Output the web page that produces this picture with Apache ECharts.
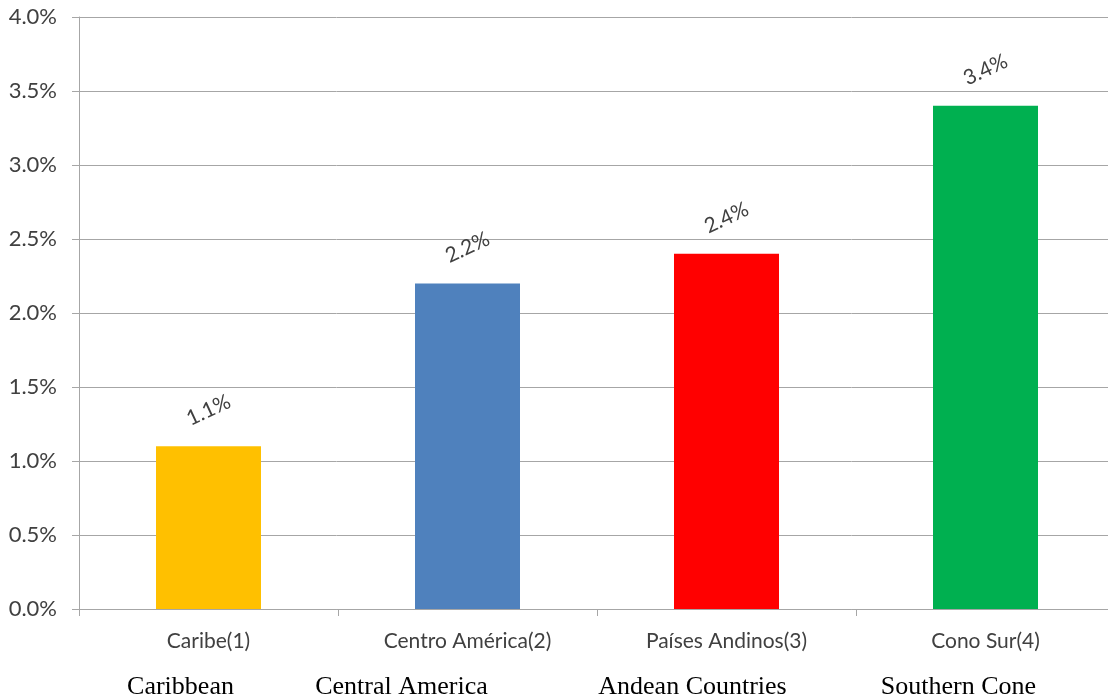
<!DOCTYPE html>
<html>
<head>
<meta charset="utf-8">
<script src="https://cdn.jsdelivr.net/npm/echarts@6/dist/echarts.min.js"></script>
<style>
html, body { margin: 0; padding: 0; background: #fff; }
#chart { width: 1108px; height: 700px; }
</style>
</head>
<body>
<div id="chart"></div>
<script>
// Regional categories (Spanish label + English translation underneath)
const categories = ['Caribe(1)', 'Centro América(2)', 'Países Andinos(3)', 'Cono Sur(4)'];
const englishNames = ['Caribbean', 'Central America', 'Andean Countries', 'Southern Cone'];
// Growth rate per region, in percent
const values = [1.1, 2.2, 2.4, 3.4];
const barColors = ['#FFC000', '#4F81BD', '#FF0000', '#00B050'];
// Value axis ticks (percent)
const yTicks = [0, 0.5, 1.0, 1.5, 2.0, 2.5, 3.0, 3.5, 4.0];

// The English captions sit a little left of each category centre;
// right padding on the caption shifts it left by half that amount.
const enShift = [56, 132, 68, 54];
const rich = {
  es: { fontFamily: 'Lato', fontSize: 21, color: '#404040', lineHeight: 24 }
};
enShift.forEach(function (p, i) {
  rich['en' + i] = {
    fontFamily: 'Liberation Serif', fontSize: 26, color: '#000000',
    lineHeight: 47, verticalAlign: 'bottom', padding: [0, p, 0, 0]
  };
});

const chart = echarts.init(document.getElementById('chart'));

chart.setOption({
  animation: false,
  grid: { left: 79, top: 17, width: 1036, height: 592, containLabel: false, outerBoundsMode: 'none' },
  xAxis: {
    type: 'category',
    data: categories,
    axisLine: { lineStyle: { color: '#A6A6A6', width: 1 } },
    axisTick: { show: true, length: 7, alignWithLabel: false, lineStyle: { color: '#A6A6A6' } },
    axisLabel: {
      interval: 0,
      margin: 20,
      formatter: function (v, i) {
        return '{es|' + v + '}\n{en' + i + '|' + englishNames[i] + '}';
      },
      rich: rich
    }
  },
  yAxis: {
    type: 'value',
    min: yTicks[0],
    max: yTicks[yTicks.length - 1],
    interval: 0.5,
    axisLine: { show: true, lineStyle: { color: '#A6A6A6' } },
    axisTick: { show: true, length: 7, lineStyle: { color: '#A6A6A6' } },
    splitLine: { lineStyle: { color: '#A6A6A6', width: 1 } },
    axisLabel: {
      margin: 22,
      fontFamily: 'Lato',
      fontSize: 22,
      color: '#404040',
      formatter: function (v) { return v.toFixed(1) + '%'; }
    }
  },
  series: [{
    type: 'bar',
    barWidth: 105,
    data: values.map(function (v, i) {
      return { value: v, itemStyle: { color: barColors[i] } };
    }),
    label: {
      show: true,
      position: 'top',
      distance: 36,
      rotate: 25,
      align: 'center',
      verticalAlign: 'middle',
      fontFamily: 'Lato',
      fontSize: 21,
      color: '#404040',
      formatter: function (p) { return p.value.toFixed(1) + '%'; }
    }
  }]
});
</script>
</body>
</html>
